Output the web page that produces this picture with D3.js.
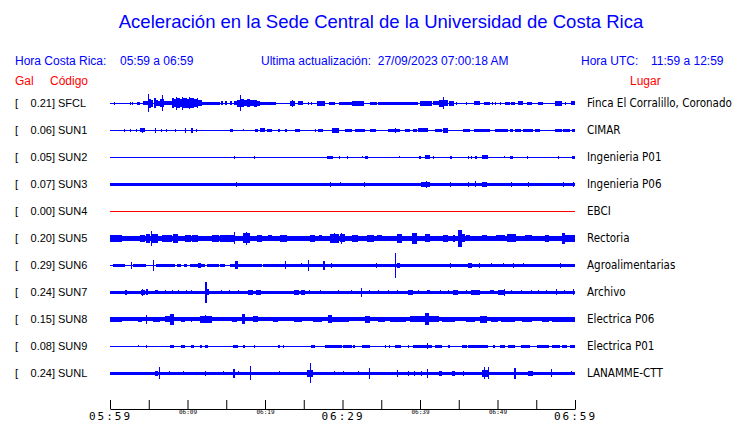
<!DOCTYPE html>
<html>
<head>
<meta charset="utf-8">
<script src="https://cdn.jsdelivr.net/npm/d3@7"></script>
<style>
  html, body { margin: 0; padding: 0; background: #ffffff; overflow: hidden; }
  svg { display: block; }
</style>
</head>
<body>
<script>
// ---------------- DATA ----------------
const codes  = ["SFCL","SUN1","SUN2","SUN3","SUN4","SUN5","SUN6","SUN7","SUN8","SUN9","SUNL"];
const gal    = [0.21, 0.06, 0.05, 0.07, 0.00, 0.20, 0.29, 0.24, 0.15, 0.08, 0.24];
const places = ["Finca El Corralillo, Coronado","CIMAR","Ingenieria P01","Ingenieria P06","EBCI",
                "Rectoria","Agroalimentarias","Archivo","Electrica P06","Electrica P01","LANAMME-CTT"];

const noiseSFCL = [[0,60,0.6]];
const noiseSUN1 = [[0,60,0.6]];
const noiseSUN2 = [[0,60,0.5]];
const noiseSUN3 = [[0,60,1.5]];
const noiseSUN4 = [[0,60,0.5]];
const noiseSUN5 = [[0,60,2.6]];
const noiseSUN6 = [[0,21.3,0.6],[21.3,60,1.5]];
const noiseSUN7 = [[0,60,1.5]];
const noiseSUN8 = [[0,60,2.0]];
const noiseSUN9 = [[0,60,0.5]];
const noiseSUNL = [[0,60,1.5]];

const burstSFCL = [[0.56,0.56,1.3],[2.6,2.6,1.3],[2.85,2.85,1.3],[3.5,3.9,1.3],[4.3,4.9,2],[4.95,4.95,9],[5.0,5.3,4.5],[5.3,5.6,3.5],[5.6,5.9,5],[5.9,6.2,3],[6.2,6.5,2.5],[6.5,6.75,4],[6.75,6.75,8],[6.8,7.0,4],[7.0,8.0,2],[8.0,8.3,5],[8.3,8.6,4],[8.6,8.6,6.3],[8.6,9.0,5],[9.0,9.4,4],[9.4,9.4,6.7],[9.4,9.9,5],[9.9,10.3,4.5],[10.3,10.3,6],[10.3,10.8,5],[10.8,11.3,4],[11.3,11.3,5],[11.3,11.8,3],[11.8,14.2,1.5],[14.4,14.6,2],[14.9,15.1,2],[15.4,15.7,2],[16.0,16.4,2],[16.4,16.8,3.5],[16.8,16.8,8],[16.8,17.3,4],[17.3,17.7,3],[17.7,18.1,4],[18.1,18.6,3],[18.6,19.0,3.5],[19.0,19.4,2.5],[19.4,21.5,1.5],[23.2,23.9,2.5],[23.6,23.6,3.3],[24.3,24.9,2],[25.6,25.6,1.5],[26.0,26.0,1.3],[26.7,27.7,2.3],[28.2,29.0,1.3],[29.5,31.2,1.7],[31.2,32.7,2.3],[33.5,34.4,1.7],[34.6,38.1,1.8],[38.1,39.8,1.3],[40.0,40.9,2.7],[40.9,41.6,2.5],[41.6,42.4,2],[42.4,42.9,3.5],[43.0,43.0,6],[43.0,43.7,3],[43.7,44.3,2.5],[44.7,44.7,1.5],[46.0,46.0,1.3],[46.9,47.7,2],[48.2,49.0,1.7],[49.3,49.3,1.3],[49.8,49.8,1.3],[50.4,50.4,1.3],[51.0,51.6,1.5],[51.8,52.3,1.3],[52.7,53.3,2],[53.8,54.4,1.5],[55.3,55.9,1.3],[57.4,58.3,2.3],[58.8,58.8,1.3],[59.5,60,2]];
const burstSUN1 = [[1.85,2.0,1.7],[2.7,2.7,1.3],[3.4,3.4,1.3],[3.9,4.5,2],[4.2,4.2,2.7],[5.9,5.9,2.7],[6.7,6.7,1.3],[7.3,7.3,1.7],[8.4,8.4,1.3],[9.7,9.7,2.7],[10.5,10.75,2.7],[11.2,11.2,1.3],[15.5,15.9,1.7],[17.2,17.2,1],[18.7,19.1,1.3],[19.35,20.0,2],[20.3,20.9,1.5],[21.6,21.9,1.7],[22.6,22.8,1.3],[23.9,24.5,1.7],[26.5,26.5,1.3],[26.9,27.5,1.5],[28.6,29.5,2.7],[30.3,31.2,1.3],[31.6,32.9,1.7],[33.5,34.3,1.7],[35.9,36.3,1.3],[36.3,37.4,1.7],[36.9,36.9,2.3],[38.1,38.7,1.5],[39.1,39.6,1.3],[39.8,41.1,2],[41.9,42.8,1.7],[43.0,43.7,2.7],[45.6,46.5,1.3],[46.9,49.0,1.7],[49.7,51.4,1.7],[51.6,52.0,1.3],[52.3,53.1,1.3],[53.3,54.6,1.7],[54.8,55.5,1.7],[57.4,58.3,1.5],[58.5,59.4,1.7],[59.6,60,1.7]];
const burstSUN2 = [[16.1,16.1,1.3],[18.7,18.7,1.3],[28.0,28.8,1.7],[29.6,29.6,1.3],[30.6,30.6,1.3],[32.6,32.6,1],[32.9,33.3,1.7],[37.3,37.3,1],[39.9,40.1,1.5],[40.6,41.3,2],[41.7,41.7,1.3],[43.9,44.1,1.3],[46.3,46.3,1.3],[46.7,46.7,1.3],[47.1,47.3,1.7],[48.0,48.8,2],[50.9,50.9,1],[51.6,52.0,1.5],[53.9,53.9,1.3],[57.9,57.9,1.3],[59.6,60,1.7]];
const burstSUN3 = [[16.3,16.3,2.7],[28.4,28.4,2.3],[29.7,29.7,2],[32.9,32.9,2.3],[40.2,41.3,2.7],[40.8,40.8,3.7],[43.9,43.9,2.3],[46.2,46.2,2.3],[47.1,47.1,3],[48.0,48.6,2.7],[51.8,51.8,2.3],[54.0,54.0,2.3],[58.5,58.5,2.3],[59.8,59.8,2.7]];
const burstSUN4 = [];
const burstSUN5 = [[0,1.5,3.7],[3.9,4.5,3.5],[4.7,5.2,4.5],[5.3,5.3,7.8],[5.4,6.2,4.2],[6.7,8.0,3.3],[8.2,8.8,4.3],[9.7,10.5,3.3],[10.6,11.4,3.5],[13.1,14.0,3.3],[14.2,15.2,3.5],[15.2,16.0,3.8],[16.1,16.1,6],[17.2,18.1,5],[17.6,17.6,6.7],[18.9,19.6,3.3],[20.4,20.9,3],[21.9,22.8,3.3],[25.8,26.5,3.3],[26.9,27.3,3],[28.4,29.5,4.3],[29.0,29.0,5],[29.7,30.3,4],[29.9,29.9,5.5],[31.2,32.0,3.3],[33.1,34.0,3.3],[34.4,35.1,3],[37.0,37.6,4.3],[38.9,39.6,5.3],[40.6,41.3,4],[43.0,43.7,3.7],[44.3,44.5,3.5],[44.9,45.4,8.5],[45.4,45.8,4],[46.0,46.5,3],[48.0,48.6,3],[49.9,51.0,3],[51.2,52.3,4],[53.5,54.4,3],[56.1,56.6,3.3],[58.3,58.7,5.5],[58.7,60,3.7]];
const burstSUN6 = [[0.4,1.9,1.5],[3.0,4.7,1.5],[6.0,8.4,1.5],[8.7,9.2,1.5],[9.5,9.9,1.5],[10.3,12.2,1.5],[12.5,14.0,1.5],[14.2,14.8,1.5],[15.5,19.6,1.5],[19.8,21.3,1.5],[2.8,2.8,3.3],[5.6,5.6,5.3],[11.4,11.8,2.3],[16.1,16.5,4],[22.6,22.6,4],[24.7,24.7,2],[25.6,25.6,5.3],[27.5,27.7,4.3],[28.6,28.6,2.3],[34.4,34.4,2.3],[36.8,36.8,12.2],[37.0,37.4,2.3],[43.9,43.9,2.3],[46.2,46.7,2.3],[47.7,47.7,2.3],[49.2,49.2,2],[50.8,50.8,2],[52.0,52.1,2.3],[53.3,53.3,2],[58.1,58.1,2.3]];
const burstSUN7 = [[0,1.1,1.7],[1.85,2.15,2.3],[4.0,4.5,2.7],[4.2,4.2,3.3],[4.7,4.9,3],[5.8,6.2,2],[7.1,7.1,2],[8.0,8.0,2],[8.8,8.8,2],[9.9,9.9,2],[10.5,10.5,2],[12.2,12.5,10.5],[12.5,12.7,3],[14.4,14.4,2],[15.4,15.4,2],[16.6,16.6,2],[17.8,18.5,2.7],[18.9,19.5,2.3],[23.7,24.3,2.3],[24.7,25.2,2.3],[25.8,25.8,2],[27.1,27.1,2],[29.5,29.5,2],[31.2,31.2,2],[32.4,32.4,4.7],[33.5,33.5,2],[34.6,34.6,2],[35.9,35.9,2],[37.1,37.1,2],[38.5,39.1,2.3],[39.8,39.8,2],[40.9,41.3,2],[42.6,42.6,2],[43.7,43.7,2],[44.3,44.9,2.3],[46.0,46.0,2],[46.5,47.7,2.3],[49.0,49.5,2],[50.1,51.0,2.7],[50.9,50.9,3.7],[51.8,51.8,2],[53.1,53.1,2],[54.4,54.4,2],[55.3,55.3,2],[56.3,56.3,2],[57.6,57.6,3],[58.6,58.6,2],[59.8,59.8,3]];
const burstSUN8 = [[0,1.5,2.3],[3.6,4.1,2.7],[4.7,4.7,4.3],[5.6,6.5,2.7],[7.1,7.7,3],[7.7,8.2,5.7],[9.2,9.7,2.3],[10.5,10.5,2.5],[11.6,13.1,3.3],[12.3,12.3,4],[15.7,16.3,2.5],[17.0,17.4,5],[18.5,19.1,3],[21.1,21.7,2.7],[23.7,24.7,2.3],[26.2,27.3,2.3],[28.1,28.6,4],[28.6,30.8,2.7],[32.9,33.5,3.3],[34.6,35.5,2.3],[36.1,38.1,2.7],[38.7,40.6,3],[40.6,41.1,6],[41.1,42.4,3],[42.8,44.5,2.3],[46.0,47.1,2.7],[47.7,48.6,3.7],[49.2,50.1,2.3],[50.5,52.3,2.7],[53.1,54.4,2.7],[55.7,56.6,2.3],[57.0,60,2.5]];
const burstSUN9 = [[3.7,3.7,1],[4.7,4.7,1.7],[7.7,8.2,1.7],[9.2,9.7,1.3],[10.5,10.9,1.3],[11.6,11.8,1.5],[12.3,12.7,1.7],[15.9,16.5,1.7],[17.2,17.4,1.7],[18.6,18.6,1.3],[21.6,21.9,1.7],[22.4,22.4,1.3],[26.0,26.5,1.7],[27.7,29.9,1.5],[30.1,31.2,1.5],[31.4,31.6,1.3],[32.5,33.5,1.5],[35.5,35.5,1.3],[36.1,36.1,1.3],[36.8,37.6,1.3],[38.5,38.5,1.3],[39.1,41.5,1.7],[41.0,41.0,3],[41.9,42.8,1.3],[43.7,43.9,1.3],[45.4,46.0,1.3],[46.2,48.8,1.7],[49.5,49.7,1.3],[50.3,51.0,1.3],[51.4,52.3,1.5],[53.1,54.2,1.7],[55.1,56.6,1.3],[57.0,58.0,1.5],[58.3,59.0,1.5],[59.3,60,1.5]];
const burstSUNL = [[5.8,6.2,2.3],[6.4,6.4,6],[7.7,7.7,2],[9.5,9.5,2],[12.3,12.3,2.3],[14.6,14.6,2],[15.9,16.2,4.3],[16.6,16.6,2],[18.15,18.15,7],[21.9,21.9,2],[25.4,26.2,3.3],[25.85,25.85,10],[29.0,29.0,2],[30.1,30.1,2],[32.0,32.0,2],[33.5,33.5,5.3],[37.1,37.1,3.3],[38.5,38.5,2.3],[39.3,39.3,2.3],[40.2,40.2,2.3],[41.0,41.0,4.3],[42.4,42.8,2.3],[44.1,44.5,2.3],[45.6,45.6,2.3],[48.0,48.8,3.7],[48.3,48.3,6],[48.8,48.8,6],[52.1,52.3,5.3],[53.9,54.6,2.7],[57.0,57.0,4],[59.6,59.6,2]];

const noise  = [noiseSFCL,noiseSUN1,noiseSUN2,noiseSUN3,noiseSUN4,noiseSUN5,noiseSUN6,noiseSUN7,noiseSUN8,noiseSUN9,noiseSUNL];
const bursts = [burstSFCL,burstSUN1,burstSUN2,burstSUN3,burstSUN4,burstSUN5,burstSUN6,burstSUN7,burstSUN8,burstSUN9,burstSUNL];

const title   = "Aceleración en la Sede Central de la Universidad de Costa Rica";
const localLabel = "Hora Costa Rica:";
const localRange = "05:59 a 06:59";
const updateLabel = "Ultima actualización:  27/09/2023 07:00:18 AM";
const utcLabel = "Hora UTC:";
const utcRange = "11:59 a 12:59";
const startTime = new Date(Date.UTC(2023, 8, 27, 5, 59));
const endTime   = new Date(Date.UTC(2023, 8, 27, 6, 59));
const tickMinutes = [0, 5, 10, 15, 20, 25, 30, 35, 40, 45, 50, 55, 60];
const labelMinutes = [0, 10, 20, 30, 40, 50, 60];
const bigLabelMinutes = [0, 30, 60];

// ---------------- DRAW ----------------
const W = 740, H = 423;
const BLUE = "#0000ff", RED = "#ff0000";
const svg = d3.select("body").append("svg").attr("width", W).attr("height", H);

const sans = "'Liberation Sans', Arial, Helvetica, sans-serif";
const cond = "'DejaVu Sans Condensed', 'DejaVu Sans', sans-serif";
const mono = "'DejaVu Sans Mono', monospace";

const x = d3.scaleUtc().domain([startTime, endTime]).range([110, 575]);
const at = m => new Date(startTime.getTime() + m * 60000);
const y = d3.scalePoint().domain(codes).range([103.3, 373.3]);
const amp = d3.scaleLinear().domain([0, 13.5]).range([0, 13.5]);

// Title & headers
svg.append("text").attr("x", 381).attr("y", 28).attr("text-anchor", "middle")
  .style("font-family", sans).style("font-size", "18.5px").attr("fill", BLUE).text(title);

const hdr = [
  {t: localLabel, x: 15}, {t: localRange, x: 120},
  {t: updateLabel, x: 261}, {t: utcLabel, x: 581}, {t: utcRange, x: 651}
];
svg.selectAll("text.hdr").data(hdr).join("text").attr("class", "hdr")
  .attr("x", d => d.x).attr("y", 65).attr("fill", BLUE)
  .style("font-family", sans).style("font-size", "12px").style("white-space", "pre")
  .text(d => d.t);

[["Gal", 15], ["Código", 50], ["Lugar", 630]].forEach(([t, px]) => {
  svg.append("text").attr("x", px).attr("y", 85).attr("fill", RED)
    .style("font-family", sans).style("font-size", "12px").text(t);
});

// Rows
const rows = codes.map((c, i) => ({code: c, gal: gal[i], place: places[i], noise: noise[i], bursts: bursts[i]}));
const g = svg.selectAll("g.row").data(rows).join("g").attr("class", "row");

g.append("text").attr("x", 15).attr("y", d => y(d.code) + 4)
  .style("font-family", sans).style("font-size", "11px").text("[");
g.append("text").attr("x", 55).attr("y", d => y(d.code) + 4).attr("text-anchor", "end")
  .style("font-family", sans).style("font-size", "11px").text(d => d.gal.toFixed(2) + "]");
g.append("text").attr("x", 58).attr("y", d => y(d.code) + 4)
  .style("font-family", sans).style("font-size", "11px").text(d => d.code);
g.append("text").attr("x", 587).attr("y", d => y(d.code) + 4)
  .style("font-family", cond).style("font-size", "11.5px").text(d => d.place);

function drawRects(sel, key) {
  sel.each(function(d) {
    const col = d.gal === 0 ? RED : BLUE;
    const cy = y(d.code);
    d3.select(this).append("g").attr("shape-rendering", "crispEdges")
      .selectAll("rect").data(d[key]).join("rect")
      .each(function(b) {
        const x0 = x(at(b[0])), x1 = x(at(b[1]));
        const w = Math.max(Math.round(x1 - x0), 1);
        let left = Math.round((x0 + x1) / 2 - w / 2);
        left = Math.min(Math.max(left, 110), 575 - w);
        const a = amp(b[2]);
        const top = Math.round(cy - a);
        const bot = Math.max(Math.round(cy + a), top + 1);
        d3.select(this).attr("x", left).attr("width", w)
          .attr("y", top).attr("height", bot - top)
          .attr("fill", col);
      });
  });
}
drawRects(g, "noise");
drawRects(g, "bursts");

// Axis
const axis = d3.axisBottom(x).tickValues(tickMinutes.map(at)).tickSize(-9).tickSizeOuter(0).tickPadding(1)
  .tickFormat(d => {
    const m = Math.round((d - startTime) / 60000);
    return labelMinutes.includes(m) ? d3.utcFormat("%H:%M")(d) : "";
  });
const ax = svg.append("g").attr("transform", "translate(0,409)").call(axis);
ax.select(".domain").attr("stroke", "#000").attr("stroke-width", 1);
ax.selectAll(".tick line").attr("stroke", "#000");
ax.selectAll(".tick text").attr("fill", "#000")
  .each(function(d) {
    const big = bigLabelMinutes.includes(Math.round((d - startTime) / 60000));
    d3.select(this)
      .style("font-family", mono)
      .style("font-size", big ? "11px" : "6px")
      .style("letter-spacing", big ? "2px" : "0px")
      .attr("y", big ? 3 : 1);
  });
</script>
</body>
</html>
